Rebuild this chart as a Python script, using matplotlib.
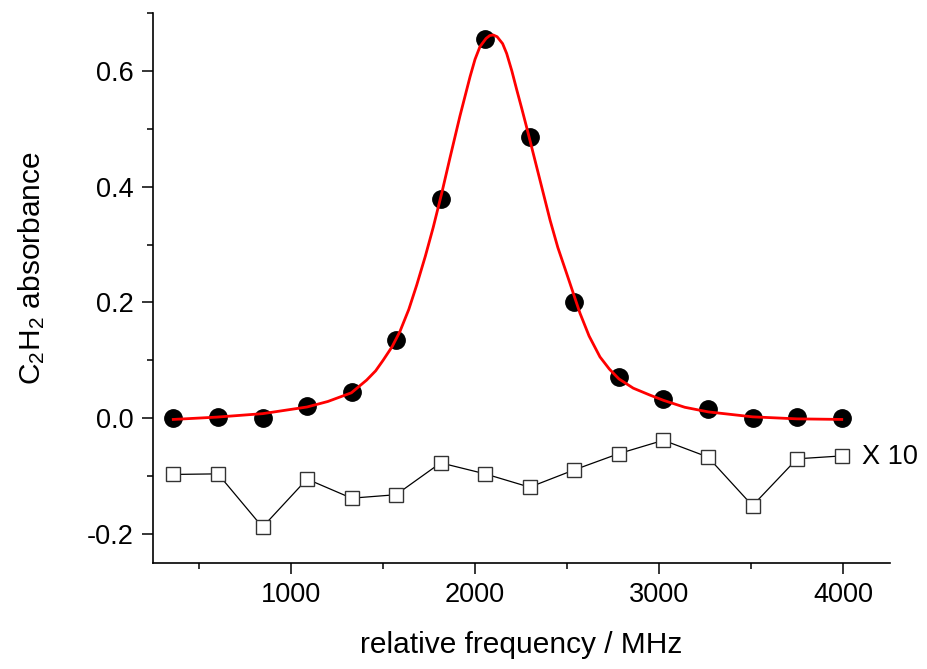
import matplotlib
matplotlib.use("Agg")
import matplotlib.pyplot as plt
from matplotlib.ticker import MultipleLocator

plt.rcParams["font.family"] = ["Liberation Sans", "DejaVu Sans"]
plt.rcParams["mathtext.fontset"] = "custom"
plt.rcParams["mathtext.rm"] = "Liberation Sans"
plt.rcParams["mathtext.it"] = "Liberation Sans:italic"
plt.rcParams["axes.unicode_minus"] = False

# measured absorbance (filled circles)
freq = [360, 603, 845, 1087, 1329, 1571, 1813, 2055,
        2297, 2540, 2782, 3024, 3266, 3508, 3750, 3993]
absorbance = [0.000, 0.003, 0.001, 0.021, 0.045, 0.136, 0.379, 0.655,
              0.485, 0.200, 0.071, 0.034, 0.016, 0.000, 0.003, 0.000]

# fit residual x 10 (open squares)
residual_x10 = [-0.097, -0.096, -0.188, -0.105, -0.138, -0.132, -0.077, -0.096,
                -0.119, -0.089, -0.061, -0.038, -0.067, -0.151, -0.070, -0.065]

# fitted profile
fit_freq = [360, 596, 846, 1087, 1200, 1328, 1411, 1460, 1500, 1550, 1592,
            1640, 1683, 1730, 1773, 1820, 1864, 1918, 1973, 2000, 2027,
            2060, 2080, 2099, 2120, 2150, 2172, 2200, 2227, 2254, 2281,
            2335, 2408, 2450, 2498, 2571, 2620, 2679, 2730, 2782, 2860,
            2951, 3024, 3140, 3268, 3508, 3750, 3993]
fit_abs = [-0.002, 0.002, 0.008, 0.0195, 0.029, 0.044, 0.066, 0.082, 0.100,
           0.124, 0.150, 0.188, 0.230, 0.280, 0.330, 0.390, 0.450, 0.522,
           0.590, 0.620, 0.642, 0.656, 0.661, 0.662, 0.659, 0.647, 0.630,
           0.600, 0.567, 0.535, 0.502, 0.434, 0.342, 0.295, 0.250, 0.181,
           0.142, 0.106, 0.085, 0.068, 0.052, 0.040, 0.031, 0.019, 0.011,
           0.0025, -0.001, -0.002]

fig = plt.figure(figsize=(9.28, 6.69), dpi=100)
ax = fig.add_axes([0.1649, 0.1584, 0.959 - 0.1649, 0.9806 - 0.1584])

ax.plot(freq, residual_x10, color="black", lw=0.9, marker="s", ms=10.5,
        mfc="white", mec="#333333", mew=1.0, zorder=2)
ax.plot(freq, absorbance, "o", color="black", ms=12.5, zorder=3)
ax.plot(fit_freq, fit_abs, color="red", lw=2.0, zorder=4,
        solid_joinstyle="round")

ax.text(4103, -0.067, "X 10", fontsize=19.5, ha="left", va="center",
        clip_on=False)

ax.set_xlim(250, 4255)
ax.set_ylim(-0.25, 0.70)
ax.xaxis.set_major_locator(MultipleLocator(1000))
ax.xaxis.set_minor_locator(MultipleLocator(500))
ax.yaxis.set_major_locator(MultipleLocator(0.2))
ax.yaxis.set_minor_locator(MultipleLocator(0.1))
ax.yaxis.set_major_formatter(plt.FormatStrFormatter("%.1f"))

for side in ("top", "right"):
    ax.spines[side].set_visible(False)
for side in ("left", "bottom"):
    ax.spines[side].set_linewidth(1.2)
ax.tick_params(which="major", direction="out", length=7.7, width=1.1,
               labelsize=19.5, pad=6)
ax.tick_params(which="minor", direction="out", length=4, width=1.1)

fig.text(521 / 928, 1 - 645 / 669, "relative frequency / MHz",
         fontsize=21.5, ha="center", va="center")
fig.text(32 / 928, 1 - 268 / 669, r"C$_2$H$_2$ absorbance",
         fontsize=21.5, ha="center", va="center", rotation=90)

fig.savefig("out.png", dpi=100)
